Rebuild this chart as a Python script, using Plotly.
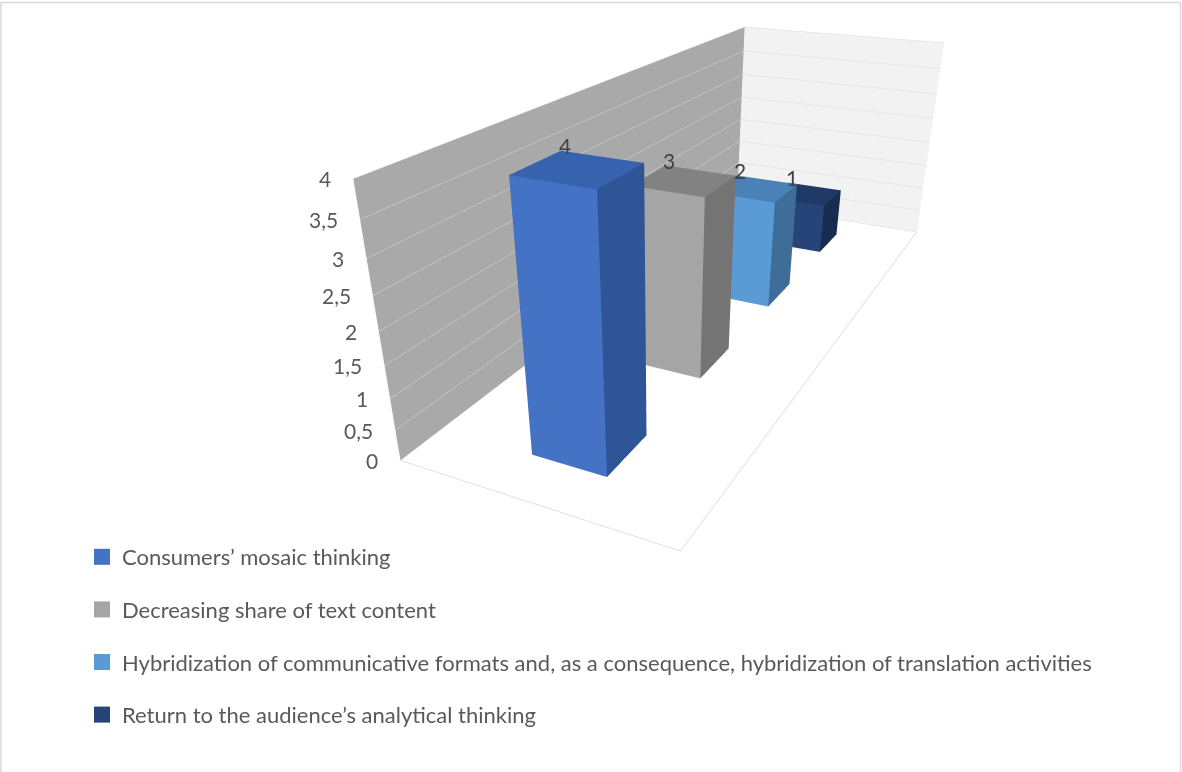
import plotly.graph_objects as go

# ---------------- data ----------------
series = [
    "Consumers’ mosaic thinking",
    "Decreasing share of text content",
    "Hybridization of communicative formats and, as a consequence, hybridization of translation activities",
    "Return to the audience’s analytical thinking",
]
values = [4, 3, 2, 1]
tick_vals = [0, 0.5, 1, 1.5, 2, 2.5, 3, 3.5, 4]
tick_text = ["0", "0,5", "1", "1,5", "2", "2,5", "3", "3,5", "4"]

# ---------------- style ----------------
front_colors = ["#4472C4", "#A5A5A5", "#5B9BD5", "#264478"]
top_colors = ["#3762AE", "#828282", "#4A82B8", "#1F3A66"]
side_colors = ["#2F5597", "#747474", "#3E6D98", "#172C4F"]

W, H = 1182, 772
BAR_X0, BAR_X1 = 0.3604, 0.6402      # bar extent inside the single category slot
DEPTH_GAP = 0.3091                    # gap in front of / behind each bar in its series slot
FONT = "Lato"

fig = go.Figure()


def cuboid(x0, x1, y0, y1, z0, z1):
    X = [x0, x1, x1, x0, x0, x1, x1, x0]
    Y = [y0, y0, y1, y1, y0, y0, y1, y1]
    Z = [z0, z0, z0, z0, z1, z1, z1, z1]
    faces = [(0, 1, 5), (0, 5, 4), (1, 2, 6), (1, 6, 5), (4, 5, 6), (4, 6, 7),
             (2, 3, 7), (2, 7, 6), (3, 0, 4), (3, 4, 7), (0, 2, 1), (0, 3, 2)]
    i, j, k = zip(*faces)
    return X, Y, Z, list(i), list(j), list(k)


for n, v in enumerate(values):
    X, Y, Z, I, J, K = cuboid(BAR_X0, BAR_X1, n + DEPTH_GAP, n + 1 - DEPTH_GAP, 0, v)
    fc = ([front_colors[n]] * 2 + [side_colors[n]] * 2 + [top_colors[n]] * 2 +
          [side_colors[n]] * 2 + [front_colors[n]] * 2 + [side_colors[n]] * 2)
    fig.add_trace(go.Mesh3d(x=X, y=Y, z=Z, i=I, j=J, k=K, facecolor=fc, flatshading=True,
                            lighting=dict(ambient=1, diffuse=0, specular=0, roughness=1, fresnel=0),
                            hoverinfo="skip", showlegend=False, showscale=False))

# floor outline (front and right edges)
fig.add_trace(go.Scatter3d(x=[0, 1, 1], y=[0, 0, len(values)], z=[0, 0, 0], mode="lines",
                           line=dict(color="#d9d9d9", width=1.5), hoverinfo="skip", showlegend=False))

# legend entries
for n, s in enumerate(series):
    fig.add_trace(go.Scatter3d(x=[None], y=[None], z=[None], mode="markers", name=s,
                               marker=dict(symbol="square", size=16, color=front_colors[n]),
                               legendgroup="g%d" % n, showlegend=True))

# value-axis labels and data labels as scene annotations
scene_ann = []
for tv, tt in zip(tick_vals, tick_text):
    scene_ann.append(dict(x=0, y=0, z=tv, text=tt, showarrow=False, xanchor="right", yanchor="middle",
                          xshift=-20, font=dict(family=FONT, size=21, color="#595959")))
for n, v in enumerate(values):
    scene_ann.append(dict(x=BAR_X0, y=n + 1 - DEPTH_GAP, z=v, text=str(v), showarrow=False,
                          xanchor="center", yanchor="middle", xshift=4, yshift=5,
                          font=dict(family=FONT, size=21, color="#404040")))

axis_common = dict(showticklabels=False, title=dict(text=""), showline=False, zeroline=False,
                   showspikes=False, ticks="")
fig.update_layout(
    width=W, height=H, margin=dict(l=0, r=0, t=0, b=0),
    paper_bgcolor="white",
    scene=dict(
        domain=dict(x=[0.11641, 1.0], y=[0.0, 1.0]),
        xaxis=dict(range=[0, 1], showgrid=False, showbackground=True, backgroundcolor="#a9a9a9",
                   **axis_common),
        yaxis=dict(range=[0, len(values)], showgrid=False, showbackground=True, backgroundcolor="#f2f2f2",
                   **axis_common),
        zaxis=dict(range=[0, 4], dtick=0.5, showgrid=True, gridcolor="#d9d9d9", gridwidth=1,
                   showbackground=False, **axis_common),
        aspectmode="manual", aspectratio=dict(x=1, y=2.8226, z=0.9278),
        camera=dict(eye=dict(x=1.3612, y=-3.2570, z=1.2392),
                    center=dict(x=-0.0660, y=-0.4114, z=-0.5889),
                    up=dict(x=0, y=0, z=1), projection=dict(type="perspective")),
        bgcolor="rgba(0,0,0,0)",
        annotations=scene_ann,
    ),
    legend=dict(x=82 / W, y=1 - 536 / H, xanchor="left", yanchor="top",
                font=dict(family=FONT, size=22, color="#595959"),
                tracegroupgap=21, bgcolor="rgba(0,0,0,0)"),
    hovermode=False,
    shapes=[dict(type="rect", xref="paper", yref="paper", x0=1 / W, x1=1 - 1.5 / W, y0=-0.01,
                 y1=1 - 2.5 / H, line=dict(color="#d9d9d9", width=1.5))],
)

fig.write_html("out.html", config={"displayModeBar": False})
